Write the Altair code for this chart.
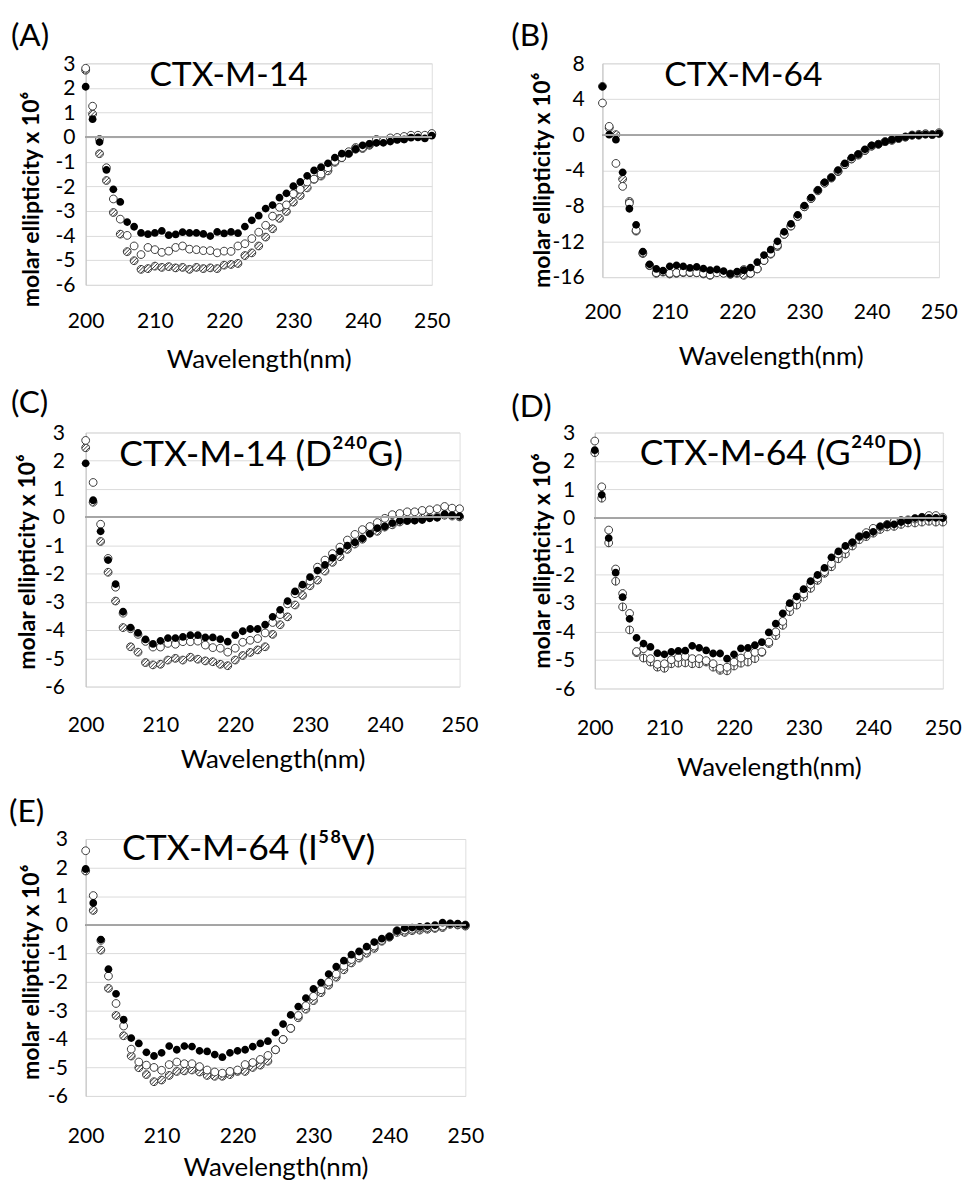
import altair as alt
import pandas as pd

wavelengths = list(range(200, 251))

A_filled = [2.05,0.73,-0.2,-1.33,-2.12,-2.63,-3.45,-3.64,-3.89,-3.94,
            -3.89,-3.81,-3.98,-3.95,-3.86,-3.89,-3.89,-3.93,-4.02,-3.85,
            -3.91,-3.85,-3.9,-3.63,-3.38,-3.19,-2.9,-2.76,-2.46,-2.28,
            -1.99,-1.82,-1.57,-1.35,-1.22,-1.06,-0.83,-0.67,-0.67,-0.49,
            -0.33,-0.27,-0.23,-0.23,-0.18,-0.11,-0.09,-0.02,-0.01,-0.05,0.06]
A_open = [2.8,1.26,-0.09,-1.24,-2.51,-3.33,-3.99,-4.42,-4.77,-4.48,
          -4.57,-4.68,-4.63,-4.48,-4.42,-4.55,-4.57,-4.61,-4.61,-4.7,
          -4.63,-4.64,-4.42,-4.33,-4.12,-3.86,-3.58,-3.21,-2.85,-2.75,
          -2.3,-2.12,-1.82,-1.7,-1.5,-1.24,-0.98,-0.83,-0.59,-0.49,
          -0.42,-0.29,-0.09,-0.14,-0.03,-0.01,0.03,0.08,0.08,0.08,0.15]
A_hatched = [2.72,0.94,-0.67,-1.76,-3.06,-3.94,-4.65,-5.02,-5.37,-5.34,
             -5.24,-5.29,-5.26,-5.31,-5.29,-5.37,-5.29,-5.34,-5.31,-5.34,
             -5.2,-5.17,-5.13,-4.81,-4.7,-4.42,-4.06,-3.72,-3.3,-3.02,
             -2.64,-2.37,-2.06,-1.71,-1.58,-1.37,-1.02,-0.83,-0.66,-0.42,
             -0.46,-0.33,-0.2,-0.14,-0.1,-0.07,-0.07,0.02,0.06,0.03,0.11]

B_filled = [5.4,0.0,-0.57,-4.23,-8.32,-10.12,-13.13,-14.56,-15.07,-15.28,
            -14.78,-14.67,-14.78,-14.96,-14.85,-15.03,-15.21,-15.14,-15.32,-15.64,
            -15.39,-15.21,-14.92,-14.31,-13.52,-12.91,-11.98,-10.91,-10.01,-9.0,
            -7.96,-7.07,-6.24,-5.35,-4.81,-3.98,-3.23,-2.58,-2.19,-1.65,
            -1.22,-1.08,-0.79,-0.57,-0.43,-0.25,-0.07,-0.07,0.04,0.0,0.14]
B_open = [3.55,0.93,-3.23,-5.81,-7.7,-10.73,-13.27,-14.67,-15.5,-15.39,
          -15.57,-15.5,-15.43,-15.46,-15.5,-15.57,-15.75,-15.5,-15.57,-15.64,
          -15.5,-15.14,-15.57,-15.07,-14.13,-13.35,-12.41,-11.19,-10.26,-9.18,
          -8.1,-7.17,-6.31,-5.45,-4.81,-4.09,-3.37,-2.73,-2.22,-1.76,
          -1.29,-1.08,-0.79,-0.57,-0.43,-0.25,-0.04,-0.07,0.11,0.0,0.22]
B_hatched = [5.42,0.75,0.0,-4.99,-7.5,-10.83,-13.35,-14.71,-15.57,-15.43,
             -15.64,-15.57,-15.5,-15.5,-15.5,-15.64,-15.79,-15.43,-15.5,-15.68,
             -15.57,-15.79,-15.57,-15.07,-14.13,-13.42,-12.56,-11.19,-10.26,-9.18,
             -8.1,-7.17,-6.24,-5.42,-4.88,-4.16,-3.37,-2.73,-2.3,-1.79,
             -1.29,-1.08,-0.79,-0.65,-0.43,-0.29,-0.07,0.04,0.04,0.0,0.11]

C_filled = [1.91,0.6,-0.5,-1.52,-2.37,-3.35,-3.91,-4.1,-4.33,-4.49,
            -4.38,-4.28,-4.28,-4.24,-4.18,-4.18,-4.26,-4.26,-4.32,-4.41,
            -4.18,-4.04,-3.96,-3.96,-3.81,-3.53,-3.28,-2.97,-2.63,-2.39,
            -2.12,-1.89,-1.69,-1.44,-1.21,-1.01,-0.89,-0.75,-0.59,-0.39,
            -0.33,-0.21,-0.13,-0.13,-0.12,-0.1,-0.04,-0.02,0.11,0.07,0.04]
C_open = [2.72,1.23,-0.25,-1.46,-2.48,-3.4,-3.95,-4.15,-4.4,-4.6,
          -4.6,-4.47,-4.5,-4.41,-4.41,-4.39,-4.53,-4.62,-4.64,-4.78,
          -4.64,-4.43,-4.36,-4.3,-4.1,-3.73,-3.45,-3.07,-2.71,-2.46,
          -2.26,-1.77,-1.52,-1.29,-1.06,-0.81,-0.61,-0.44,-0.33,-0.19,
          -0.04,0.09,0.13,0.19,0.19,0.24,0.26,0.3,0.38,0.32,0.3]
C_hatched = [2.46,0.53,-0.86,-1.95,-2.97,-3.91,-4.59,-4.78,-5.15,-5.23,
             -5.21,-5.06,-5.0,-5.06,-4.96,-5.03,-5.09,-5.12,-5.21,-5.26,
             -5.06,-4.9,-4.79,-4.7,-4.59,-4.15,-3.81,-3.53,-3.11,-2.77,
             -2.43,-2.23,-1.91,-1.6,-1.4,-1.14,-0.95,-0.78,-0.55,-0.5,
             -0.35,-0.27,-0.17,-0.12,-0.1,-0.04,-0.01,0.01,0.07,0.04,0.01]

D_filled = [2.38,0.81,-0.71,-1.93,-2.79,-3.55,-4.22,-4.42,-4.54,-4.76,
            -4.8,-4.71,-4.68,-4.67,-4.5,-4.57,-4.66,-4.77,-4.77,-4.95,
            -4.8,-4.59,-4.57,-4.48,-4.37,-4.03,-3.72,-3.36,-3.0,-2.77,
            -2.51,-2.23,-2.01,-1.76,-1.39,-1.18,-0.99,-0.86,-0.66,-0.6,
            -0.49,-0.3,-0.24,-0.23,-0.15,-0.09,-0.01,0.02,0.0,0.0,-0.01]
D_open = [2.7,1.09,-0.43,-1.8,-2.66,-3.36,-4.7,-4.6,-4.95,-5.15,
          -5.13,-4.99,-4.91,-4.87,-4.95,-4.95,-5.02,-5.13,-5.29,-5.25,
          -5.07,-4.93,-4.82,-4.73,-4.71,-4.37,-4.01,-3.64,-3.15,-2.88,
          -2.68,-2.34,-2.12,-1.89,-1.61,-1.27,-1.11,-0.88,-0.66,-0.52,
          -0.37,-0.32,-0.23,-0.13,-0.09,-0.07,-0.04,0.02,0.08,0.08,0.02]
D_barred = [2.29,0.69,-0.88,-2.23,-3.13,-3.94,-4.74,-4.93,-5.07,-5.25,
            -5.29,-5.13,-5.11,-5.1,-5.13,-5.13,-5.07,-5.25,-5.36,-5.38,
            -5.21,-5.11,-5.07,-4.95,-4.73,-4.42,-4.14,-3.78,-3.3,-3.07,
            -2.79,-2.48,-2.2,-1.95,-1.72,-1.44,-1.27,-0.99,-0.77,-0.66,
            -0.54,-0.41,-0.32,-0.3,-0.23,-0.18,-0.18,-0.15,-0.12,-0.15,-0.15]

E_filled = [1.95,0.76,-0.52,-1.56,-2.42,-3.33,-3.97,-4.16,-4.47,-4.6,
            -4.49,-4.25,-4.38,-4.25,-4.27,-4.42,-4.44,-4.55,-4.64,-4.49,
            -4.42,-4.38,-4.27,-4.16,-4.08,-3.78,-3.48,-3.16,-2.87,-2.57,
            -2.25,-2.03,-1.73,-1.47,-1.26,-1.05,-0.94,-0.77,-0.61,-0.49,
            -0.42,-0.21,-0.12,-0.1,-0.08,-0.05,-0.02,0.07,0.04,0.04,-0.01]
E_open = [2.59,1.02,-0.55,-1.8,-2.76,-3.55,-4.36,-4.81,-4.92,-5.0,
          -5.1,-4.9,-4.81,-4.87,-4.87,-4.97,-5.09,-5.16,-5.2,-5.14,
          -5.09,-4.9,-4.83,-4.72,-4.58,-4.38,-4.02,-3.63,-3.18,-2.84,
          -2.51,-2.28,-2.01,-1.73,-1.45,-1.22,-1.09,-0.89,-0.75,-0.55,
          -0.42,-0.21,-0.19,-0.16,-0.12,-0.1,-0.1,-0.05,0.03,0.01,-0.01]
E_hatched = [1.88,0.5,-0.89,-2.23,-3.18,-3.89,-4.6,-5.01,-5.25,-5.5,
             -5.44,-5.28,-5.14,-5.12,-5.09,-5.16,-5.28,-5.31,-5.31,-5.25,
             -5.14,-5.14,-5.0,-4.92,-4.78,-4.38,-4.02,-3.63,-3.26,-2.96,
             -2.66,-2.38,-2.12,-1.84,-1.58,-1.34,-1.17,-1.0,-0.83,-0.58,
             -0.44,-0.27,-0.27,-0.21,-0.19,-0.16,-0.13,-0.1,0.01,-0.01,-0.05]

panel_letters = ["(A)", "(B)", "(C)", "(D)", "(E)"]
panel_titles = ["CTX-M-14", "CTX-M-64", "CTX-M-14 (D\u00b2\u2074\u2070G)",
                "CTX-M-64 (G\u00b2\u2074\u2070D)", "CTX-M-64 (I\u2075\u2078V)"]
y_title = "molar ellipticity x 10\u2076"
x_title = "Wavelength(nm)"
x_ticks = [200, 210, 220, 230, 240, 250]
y_ticks_small = [-6, -5, -4, -3, -2, -1, 0, 1, 2, 3]
y_ticks_big = [-16, -12, -8, -4, 0, 4, 8]

FONT = "Lato"
CIRCLE = "M1,0A1,1,0,1,1,-1,0A1,1,0,1,1,1,0Z"
HATCH = CIRCLE + "M-0.707,0.707L0.707,-0.707M-0.095,0.995L0.995,-0.095M-0.995,0.095L0.095,-0.995"
BAR = CIRCLE + "M0,-1L0,1"


def panel(letter, title, filled, open_, third, third_shape, ydom, yticks,
          w, h, tx, ty, tfs, lx, ly, ylpad, yt_x, yt_y, xlpad, xtpad):
    df = pd.DataFrame({
        "wl": wavelengths * 3,
        "val": filled + open_ + third,
        "series": ["filled"] * 51 + ["open"] * 51 + ["third"] * 51,
    })
    xscale = alt.Scale(domain=[200, 250], nice=False, zero=False)
    yscale = alt.Scale(domain=ydom, nice=False, zero=False)
    xaxis = alt.Axis(values=x_ticks, title=x_title, grid=False,
                     domain=False, ticks=False, labelPadding=xlpad,
                     labelFontSize=22, titleFontSize=27, titlePadding=xtpad,
                     titleFontWeight="normal", labelFlush=False,
                     labelOverlap=False)
    yaxis = alt.Axis(values=yticks, title=None,
                     grid=True, gridColor="#d9d9d9", domain=True,
                     domainColor="#bfbfbf", ticks=False,
                     labelPadding=ylpad,
                     labelExpr="'' + datum.value",
                     labelFontSize=22, labelFlush=False,
                     labelOverlap=False)
    x = alt.X("wl:Q", scale=xscale, axis=xaxis)
    y = alt.Y("val:Q", scale=yscale, axis=yaxis)
    base = alt.Chart(df).encode(x=x, y=y)
    pts_third = base.transform_filter(alt.datum.series == "third").mark_point(
        shape=third_shape, fill="white", stroke="#333333", strokeWidth=1,
        size=66, opacity=1, fillOpacity=1)
    pts_open = base.transform_filter(alt.datum.series == "open").mark_point(
        shape=CIRCLE, fill="white", stroke="#333333", strokeWidth=1,
        size=66, opacity=1, fillOpacity=1)
    pts_filled = base.transform_filter(alt.datum.series == "filled").mark_point(
        shape=CIRCLE, filled=True, color="black", size=66, opacity=1)
    zero = alt.Chart(df).mark_rule(color="#a6a6a6", strokeWidth=1).encode(
        y=alt.YDatum(0, scale=yscale, axis=yaxis), x=alt.value(0), x2=alt.value(w))
    tdf = pd.DataFrame({"t": [title], "l": [letter], "y": [y_title]})
    ttl = alt.Chart(tdf).mark_text(font=FONT, fontSize=tfs, align="center",
                                   baseline="alphabetic", color="black").encode(
        text="t:N", x=alt.value(tx), y=alt.value(ty))
    let = alt.Chart(tdf).mark_text(font=FONT, fontSize=33, align="left",
                                   baseline="alphabetic", color="black").encode(
        text="l:N", x=alt.value(lx), y=alt.value(ly))
    ytl = alt.Chart(tdf).mark_text(font=FONT, fontSize=24, fontWeight="bold",
                                   align="center", baseline="alphabetic",
                                   angle=270, color="black").encode(
        text="y:N", x=alt.value(yt_x), y=alt.value(yt_y))
    return alt.layer(pts_third, pts_open, pts_filled, zero, ttl, let, ytl).properties(
        width=w, height=h)


pA = panel(panel_letters[0], panel_titles[0], A_filled, A_open, A_hatched, HATCH,
           [-6, 3], y_ticks_small, 361, 231, 149, 24, 35, -78, -18, 11, -49, 142, 27, 17)
pB = panel(panel_letters[1], panel_titles[1], B_filled, B_open, B_hatched, HATCH,
           [-16, 8], y_ticks_big, 351, 223, 147, 24, 35, -95, -18, 19, -55, 122, 26, 23)
pC = panel(panel_letters[2], panel_titles[2], C_filled, C_open, C_hatched, HATCH,
           [-6, 3], y_ticks_small, 390, 265, 183, 35, 37, -78, -20, 22, -53, 135, 30, 12)
pD = panel(panel_letters[3], panel_titles[3], D_filled, D_open, D_barred, BAR,
           [-6, 3], y_ticks_small, 363, 267, 194, 34, 37, -87, -16, 21, -47, 134, 31, 18)
pE = panel(panel_letters[4], panel_titles[4], E_filled, E_open, E_hatched, HATCH,
           [-6, 3], y_ticks_small, 396, 268, 170, 22, 37, -80, -18, 19, -49, 139, 32, 9)

row1 = alt.hconcat(pA, pB, spacing=62)
row2 = alt.hconcat(pC, pD, spacing=33)
chart = alt.concat(row1, row2, pE, columns=1, align="none", spacing=15).properties(
    padding={"left": 0, "top": -13, "right": 0, "bottom": 0}
).configure_view(stroke=None).configure_axis(
    labelFont=FONT, titleFont=FONT, labelColor="#262626", titleColor="#000000"
).configure(font=FONT)

chart.save("out.html", embed_options={"renderer": "svg", "actions": False})
